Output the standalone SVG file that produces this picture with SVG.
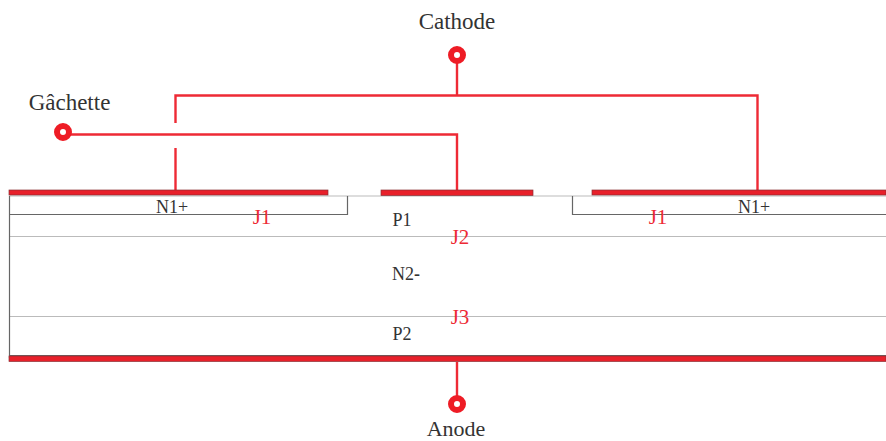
<svg xmlns="http://www.w3.org/2000/svg" width="886" height="441" viewBox="0 0 886 441">
<style>
text{font-family:"Liberation Serif","Times New Roman",serif}
.lab{font-size:23px;fill:#333;text-anchor:middle}
.reg{font-size:18px;fill:#333;text-anchor:middle}
.j{font-size:21px;fill:#ed2a35;text-anchor:middle}
.wire{fill:none;stroke:#ee2a35;stroke-width:2.4}
.metal{fill:#e8202a;stroke:#8a3035;stroke-width:.7}
.dark{fill:none;stroke:#666;stroke-width:1.2}
.pale{fill:none;stroke:#bbb;stroke-width:1.2}
.term{fill:#fff;stroke:#ee1c25;stroke-width:6}
</style>
<g id="substrate">
<path class="pale" d="M9 196H886"/>
<path class="pale" d="M9 236.500H886"/>
<path class="pale" d="M9 316.500H886"/>
<path class="dark" d="M9.500 196V358"/>
<path class="dark" d="M9 355.500H886"/>
</g>
<g id="n1-left"><path class="dark" d="M9 214.500H347.500V196"/><text class="reg" x="172" y="212.500">N1+</text></g>
<g id="n1-right"><path class="dark" d="M572.500 196V214.500H886"/><text class="reg" x="754" y="212.500">N1+</text></g>
<g id="p1"><text class="reg" x="402" y="226">P1</text></g>
<g id="n2"><text class="reg" x="406" y="280">N2<tspan font-weight="bold">-</tspan></text></g>
<g id="p2"><text class="reg" x="402" y="340">P2</text></g>
<g id="junctions">
<text class="j" x="262" y="224">J1</text>
<text class="j" x="460" y="244">J2</text>
<text class="j" x="658" y="224">J1</text>
<text class="j" x="460" y="324">J3</text>
</g>
<g id="connectors">
<path class="wire" d="M457 63V95.500"/>
<path class="wire" d="M175.500 123V95.500H757.500V190"/>
<path class="wire" d="M175.500 148V190"/>
<path class="wire" d="M70 134.500H457V190"/>
<path class="wire" d="M457 362V396"/>
</g>
<g id="contact-left"><rect class="metal" x="9" y="190" width="319" height="5"/></g>
<g id="contact-center"><rect class="metal" x="381" y="190" width="152" height="5.500"/></g>
<g id="contact-right"><rect class="metal" x="592" y="190" width="294" height="5"/></g>
<g id="contact-anode"><rect class="metal" x="9" y="356" width="877" height="5.500"/></g>
<g id="cathode"><circle class="term" cx="457" cy="55" r="6"/><text class="lab" x="457" y="29">Cathode</text></g>
<g id="gachette"><circle class="term" cx="63" cy="132" r="6"/><text class="lab" x="69.500" y="110">Gâchette</text></g>
<g id="anode"><circle class="term" cx="457" cy="404" r="6"/><text class="lab" style="font-size:22px" x="456" y="436">Anode</text></g>
</svg>
